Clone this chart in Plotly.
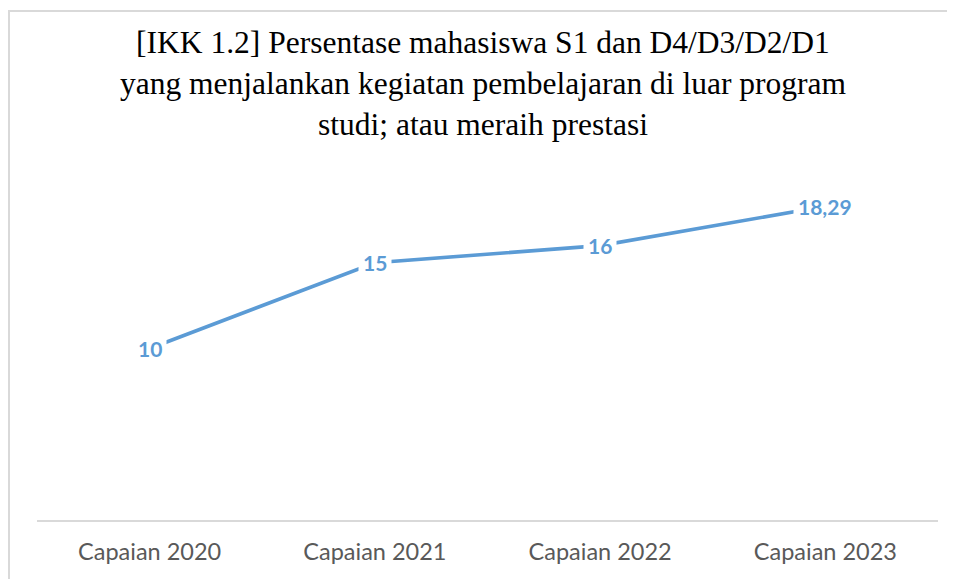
import plotly.graph_objects as go

categories = ["Capaian 2020", "Capaian 2021", "Capaian 2022", "Capaian 2023"]
values = [10, 15, 16, 18.29]
value_labels = ["10", "15", "16", "18,29"]
title_text = ("[IKK 1.2] Persentase mahasiswa S1 dan D4/D3/D2/D1<br>"
              "yang menjalankan kegiatan pembelajaran di luar program<br>"
              "studi; atau meraih prestasi")

# page has an 8px body margin; figure sized to fit the window
W, H = 947, 571
L, R, T, B = 29, 17, 169, 59
pw, ph = W - L - R, H - T - B

blue = "#5B9BD5"

fig = go.Figure()
fig.add_trace(go.Scatter(
    x=categories, y=values, mode="lines",
    line=dict(color=blue, width=3.6),
    hoverinfo="skip", showlegend=False,
))

for c, v, t in zip(categories, values, value_labels):
    fig.add_annotation(
        x=c, y=v, text="<b>%s</b>" % t, showarrow=False,
        font=dict(family="Lato, Open Sans, sans-serif", size=21, color=blue),
        bgcolor="white", borderpad=4, xanchor="center", yanchor="middle",
    )

# chart frame
fig.add_shape(type="rect", xref="paper", yref="paper",
              x0=(1 - L) / pw, x1=(W + 20 - L) / pw,
              y0=(H - B - (H + 20)) / ph, y1=(H - B - 3) / ph,
              line=dict(color="#D9D9D9", width=2), layer="below")

fig.update_layout(
    width=W, height=H,
    margin=dict(l=L, r=R, t=T, b=B, autoexpand=False),
    paper_bgcolor="white", plot_bgcolor="white",
    title=dict(text=title_text, x=(475 - L) / pw, xref="paper",
               xanchor="center", y=(H - 45) / H, yanchor="top",
               font=dict(family="Liberation Serif, Times New Roman, serif",
                         size=31.5, color="black")),
    xaxis=dict(type="category", range=[-0.5, 3.5], showgrid=False,
               showline=True, linecolor="#D9D9D9", linewidth=1.5, ticks="",
               tickfont=dict(family="Lato, Open Sans, sans-serif", size=23.5,
                             color="#595959"),
               ticklabelstandoff=10, automargin=False),
    yaxis=dict(range=[0, 20], visible=False, showgrid=False, zeroline=False),
)

fig.write_html("out.html")
